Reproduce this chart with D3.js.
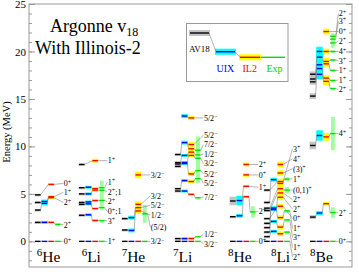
<!DOCTYPE html>
<html>
<head>
<meta charset="utf-8">
<script src="https://cdn.jsdelivr.net/npm/d3@7"></script>
<style>
  body { margin: 0; background: #fff; }
  svg { display: block; font-family: "Liberation Serif", "Times New Roman", serif; }
</style>
</head>
<body>
<div id="chart"></div>
<script>
'use strict'

// models, in column order
const models = ['AV18', 'UIX', 'IL2', 'Exp'];

// nuclei
const massNumbers = [6, 6, 7, 7, 8, 8, 8];
const symbols = ['He', 'Li', 'He', 'Li', 'He', 'Li', 'Be'];

// 6He  (energies in MeV, null = not shown); err = half height of band [AV18, UIX, IL2, Exp]
const he6Spin   = ['0+', '2+', '2+', '1+', '0+'];
const he6LabelE = [0, 1.75, 4.1, 5.15, 6.1];
const he6AV18   = [0, 2.0, 3.3, 4.1, 4.9];
const he6UIX    = [0, 2.0, 4.0, 4.2, null];
const he6IL2    = [0, 2.0, 4.6, 4.7, 6.0];
const he6Exp    = [0, 1.8, null, null, null];
const he6Err    = [[0, 0, 0, 0], [0.1, 0.15, 0.15, 0.05], [0.1, 0.2, 0.15, 0], [0.1, 0.2, 0.15, 0], [0.1, 0, 0.15, 0]];

// 6Li
const li6Spin   = ['1+', '3+', '0+;1', '2+', '2+;1', '1+', '1+'];
const li6LabelE = [0, 2.15, 3.15, 4.2, 5.2, 6.25, 8.5];
const li6AV18   = [0, 2.75, 3.9, 4.1, 5.0, 5.65, 8.1];
const li6UIX    = [0, 2.8, 3.95, 4.15, 5.0, 5.7, null];
const li6IL2    = [0, 2.2, 3.45, 4.3, 5.4, 5.55, 8.5];
const li6Exp    = [0, 2.19, 3.56, 4.31, 5.37, 5.65, null];
const li6Err    = [[0, 0, 0, 0], [0.1, 0.15, 0.15, 0.02], [0.1, 0.12, 0.15, 0.01], [0.1, 0.15, 0.15, 0.65],
                   [0.1, 0.15, 0.2, 0.05], [0.1, 0.15, 0.2, 0.75], [0.1, 0, 0.2, 0]];

// 7He
const he7Spin   = ['3/2−', '(5/2)', '1/2−', '5/2−', '3/2−', '3/2−'];
const he7LabelE = [0, 1.5, 2.75, 3.8, 4.8, 7.0];
const he7AV18   = [0, null, 1.2, 2.4, null, null];
const he7UIX    = [0, null, 1.15, 2.5, null, null];
const he7IL2    = [0, null, 3.2, 3.55, 3.9, 7.0];
const he7Exp    = [0, 2.9, null, null, null, null];
const he7Err    = [[0, 0, 0, 0], [0, 0, 0, 0.95], [0.1, 0.2, 0.3, 0], [0.1, 0.2, 0.3, 0], [0, 0, 0.3, 0], [0, 0, 0.35, 0]];

// 7Li
const li7Spin   = ['3/2−', '1/2−', '7/2−', '5/2−', '5/2−', '3/2−', '1/2−', '7/2−', '5/2−', '5/2−'];
const li7LabelE = [-0.25, 0.8, 4.7, 6.1, 7.1, 8.2, 9.2, 10.2, 11.2, 13.0];
const li7AV18   = [0, 0.3, 5.3, 5.55, 7.9, 8.15, 8.3, 9.15, null, null];
const li7UIX    = [0, 0.3, 5.3, 6.4, 8.2, 8.3, 9.05, 10.4, null, 13.2];
const li7IL2    = [0, 0.3, 4.95, 6.3, 7.1, 9.05, 9.4, 9.75, 10.2, 13.0];
const li7Exp    = [0, 0.48, 4.6, 6.6, 7.45, 8.75, 9.1, 9.6, null, null];
const li7Err    = [[0, 0, 0, 0], [0.05, 0.1, 0.15, 0], [0.1, 0.15, 0.15, 0.05], [0.1, 0.15, 0.2, 0.45],
                   [0.1, 0.15, 0.2, 0.05], [0.1, 0.15, 0.2, 2.3], [0.1, 0.15, 0.2, 1.4], [0.1, 0.2, 0.2, 0.25],
                   [0, 0, 0.25, 0], [0, 0.2, 0.2, 0]];

// 8He
const he8Spin   = ['0+', '2+', '1+', '0+', '2+'];
const he8LabelE = [0, 3.15, 5.7, 7.0, 8.1];
const he8AV18   = [0, 2.6, 4.25, null, null];
const he8UIX    = [0, 2.7, 4.3, null, null];
const he8IL2    = [0, 4.7, 5.8, 7.0, 8.1];
const he8Exp    = [0, 3.1, null, null, null];
const he8Err    = [[0, 0, 0, 0], [0.1, 0.2, 0.15, 0.6], [0.45, 0.5, 0.15, 0], [0, 0, 0.2, 0], [0, 0, 0.2, 0]];

// 8Li
const li8Spin   = ['2+', '1+', '3+', '1+', '0+', '2+', '2+', '(0,1)+', '1+', '(3)+', '4+', '3+'];
const li8LabelE = [-1.65, -0.65, 0.4, 1.35, 2.4, 3.4, 4.4, 5.4, 6.6, 7.65, 8.7, 9.75];
const li8AV18   = [0, 0.5, 1.45, 1.9, 2.4, 0.98, 3.25, 3.5, 4.1, null, null, 5.4];
const li8UIX    = [0, 1.05, 2.1, 3.35, null, 3.5, null, null, 6.5, null, null, null];
const li8IL2    = [0, 0.8, 1.5, 2.5, 3.7, 4.65, 5.1, 5.55, 6.1, 7.2, 8.1, 6.3];
const li8Exp    = [0, 0.98, 2.26, 3.21, null, null, null, 5.4, 6.55, null, null, null];
const li8Err    = [[0, 0, 0, 0], [0.1, 0.15, 0.25, 0.02], [0.1, 0.15, 0.25, 0.02], [0.1, 0.15, 0.25, 0.05],
                   [0.1, 0, 0.25, 0], [0.1, 0.2, 0.3, 0], [0.1, 0, 0.3, 0], [0.1, 0, 0.3, 0.33],
                   [0.1, 0.2, 0.3, 0.2], [0, 0, 0.3, 0], [0, 0, 0.3, 0], [0.1, 0, 0.3, 0]];

// 8Be
const be8Spin   = ['0+', '2+', '4+', '2+', '1+', '1+', '3+', '4+', '2+', '0+', '3+', '2+'];
const be8LabelE = [0, 3.0, 11.35, 16.0, 17.0, 18.0, 19.0, 20.0, 21.1, 22.1, 23.2, 24.0];
const be8AV18   = [0, 2.56, 10.1, 15.3, 16.8, 17.1, 17.6, null, null, null, null, null];
const be8UIX    = [0, 2.98, 11.15, 17.6, 18.2, 18.6, 19.4, 20.0, null, null, null, null];
const be8IL2    = [0, 3.97, 11.0, 16.85, 17.2, 18.7, 18.95, 20.0, null, 22.1, null, null];
const be8Exp    = [0, 3.03, 11.35, 16.1, 16.95, 18.0, 19.1, 20.0, 20.9, null, 21.3, 21.6];
const be8Err    = [[0, 0, 0, 0], [0.2, 0.2, 0.2, 0.55], [0.4, 0.55, 0.4, 1.75], [0.3, 0.5, 0.4, 0.05],
                   [0.3, 0.5, 0.3, 0.05], [0.3, 0.5, 0.3, 0.1], [0.3, 0.5, 0.4, 0.1], [0, 0.5, 0.3, 0.1],
                   [0, 0, 0, 0.5], [0, 0, 0.3, 0], [0, 0, 0, 0.3], [0, 0, 0, 0.3]];

const nuclei = [
  [he6Spin, he6LabelE, he6AV18, he6UIX, he6IL2, he6Exp, he6Err],
  [li6Spin, li6LabelE, li6AV18, li6UIX, li6IL2, li6Exp, li6Err],
  [he7Spin, he7LabelE, he7AV18, he7UIX, he7IL2, he7Exp, he7Err],
  [li7Spin, li7LabelE, li7AV18, li7UIX, li7IL2, li7Exp, li7Err],
  [he8Spin, he8LabelE, he8AV18, he8UIX, he8IL2, he8Exp, he8Err],
  [li8Spin, li8LabelE, li8AV18, li8UIX, li8IL2, li8Exp, li8Err],
  [be8Spin, be8LabelE, be8AV18, be8UIX, be8IL2, be8Exp, be8Err]
].map(function(a, i) {
  return {A: massNumbers[i], sym: symbols[i], spin: a[0], labelE: a[1], E: [a[2], a[3], a[4], a[5]], err: a[6]};
});

// layout (column units)
const nucOffset = [0.9, 7.46, 13.88, 21.8, 30.0, 35.1, 41.94];
const nameShift = [0.25, 0.4, -0.05, -0.3, -0.3, 1.0, 0.0];
const segW = 0.82;

const lineCol = ['#000000', '#0000ff', '#ff0000', '#00e000'];
const bandCol = ['#c4c4c4', '#00ffff', '#ffff00', '#a0ffa0'];

const w = 359, h = 272;
const svg = d3.select('#chart').append('svg').attr('width', w).attr('height', h);

const y = d3.scaleLinear().domain([-2.7, 25]).range([267, 4]);
const x = d3.scaleLinear().domain([0, 48.2]).range([29, 352]);

// frame + axes
svg.append('rect').attr('x', 29).attr('y', 4).attr('width', 323).attr('height', 263)
   .attr('fill', 'none').attr('stroke', '#999').attr('stroke-width', 1);

function styleAxis(g) {
  g.select('.domain').remove();
  g.selectAll('line').attr('stroke', '#999');
  g.selectAll('text').attr('font-family', '"Liberation Serif", serif').attr('font-size', 11).attr('fill', '#000');
}
svg.append('g').attr('transform', 'translate(29,0)')
   .call(d3.axisLeft(y).tickValues(d3.range(-2, 26)).tickSize(-3).tickFormat('')).call(styleAxis);
svg.append('g').attr('transform', 'translate(29,0)')
   .call(d3.axisLeft(y).tickValues([0, 5, 10, 15, 20, 25]).tickSize(-6).tickPadding(3)).call(styleAxis);
svg.append('g').attr('transform', 'translate(352,0)')
   .call(d3.axisRight(y).tickValues(d3.range(-2, 26)).tickSize(-3).tickFormat('')).call(styleAxis);
svg.append('g').attr('transform', 'translate(352,0)')
   .call(d3.axisRight(y).tickValues([0, 5, 10, 15, 20, 25]).tickSize(-6).tickFormat('')).call(styleAxis);

svg.append('text').attr('transform', 'translate(10,132) rotate(-90)')
   .attr('text-anchor', 'middle').attr('font-size', 10.5).text('Energy (MeV)');

// flatten levels
const levels = [], links = [], tags = [];
nuclei.forEach(function(nuc, n) {
  const off = nucOffset[n];
  nuc.spin.forEach(function(sp, s) {
    const pts = [];
    for (let k = 0; k < 4; k++) {
      const v = nuc.E[k][s];
      if (v === null) continue;
      const lv = {k: k, E: v, err: nuc.err[s][k], x0: x(off + k), x1: x(off + k + segW), xc: x(off + k + segW / 2)};
      levels.push(lv);
      pts.push(lv);
    }
    for (let i = 1; i < pts.length; i++) {
      links.push([pts[i - 1].x1, y(pts[i - 1].E), pts[i].x0, y(pts[i].E)]);
    }
    const last = pts[pts.length - 1];
    const lx = x(off + 4.3);
    links.push([last.x1, y(last.E), lx - 0.5, y(nuc.labelE[s])]);
    tags.push({x: lx, E: nuc.labelE[s], text: sp});
  });
});

// bands
svg.append('g').selectAll('rect').data(levels.filter(d => d.err > 0)).enter().append('rect')
   .attr('x', d => d.k === 3 ? d.xc - 1.9 : d.x0 - 0.5)
   .attr('width', d => d.k === 3 ? 3.8 : d.x1 - d.x0 + 1)
   .attr('y', d => y(d.E + d.err))
   .attr('height', d => Math.max(2.5, y(d.E - d.err) - y(d.E + d.err)))
   .attr('fill', d => bandCol[d.k]);

// connectors
svg.append('g').selectAll('line').data(links).enter().append('line')
   .attr('x1', d => d[0]).attr('y1', d => d[1]).attr('x2', d => d[2]).attr('y2', d => d[3])
   .attr('stroke', '#808080').attr('stroke-width', 0.6);

// level lines
svg.append('g').selectAll('line').data(levels).enter().append('line')
   .attr('x1', d => d.x0).attr('x2', d => d.x1)
   .attr('y1', d => y(d.E)).attr('y2', d => y(d.E))
   .attr('stroke', d => lineCol[d.k]).attr('stroke-width', 1.4);

// spin labels
function spinText(sel, s) {
  const m = s.match(/^(.*?)([+−])(.*)$/);
  if (!m) { sel.text(s); return; }
  sel.append('tspan').text(m[1]);
  sel.append('tspan').attr('dy', -2.5).attr('font-size', 6).text(m[2]);
  if (m[3]) sel.append('tspan').attr('dy', 2.5).text(m[3]);
}
svg.append('g').selectAll('text').data(tags).enter().append('text')
   .attr('x', d => d.x).attr('y', d => y(d.E) + 2.8)
   .attr('font-size', 8).attr('fill', '#000')
   .each(function(d) { spinText(d3.select(this), d.text); });

// nucleus names
nuclei.forEach(function(nuc, n) {
  const t = svg.append('text').attr('x', x(nucOffset[n] + nameShift[n])).attr('y', 262).attr('fill', '#000');
  t.append('tspan').attr('font-size', 11).attr('dy', -6).text(nuc.A);
  t.append('tspan').attr('font-size', 15.5).attr('dy', 6).text(nuc.sym);
});

// title
const t1 = svg.append('text').attr('x', 50).attr('y', 32).attr('font-size', 18);
t1.append('tspan').text('Argonne v');
t1.append('tspan').attr('font-size', 12).attr('dy', 3.5).text('18');
svg.append('text').attr('x', 35).attr('y', 54).attr('font-size', 18).text('With Illinois-2');

// legend
const lg = svg.append('g');
lg.append('rect').attr('x', 186.5).attr('y', 23.5).attr('width', 101.5).attr('height', 58)
  .attr('fill', '#fff').attr('stroke', '#999');
const legItems = [
  {k: 0, x0: 190, x1: 209, yy: 33},
  {k: 1, x0: 216, x1: 235, yy: 51.7},
  {k: 2, x0: 240, x1: 260, yy: 57.3},
  {k: 3, x0: 261, x1: 285, yy: 57.3}
];
legItems.forEach(function(d, i) {
  if (d.k < 3) lg.append('rect').attr('x', d.x0 - 1).attr('width', d.x1 - d.x0 + 2)
    .attr('y', d.yy - 3).attr('height', 6).attr('fill', bandCol[d.k]);
  if (i > 0) lg.append('line').attr('x1', legItems[i - 1].x1).attr('y1', legItems[i - 1].yy)
    .attr('x2', d.x0).attr('y2', d.yy).attr('stroke', '#808080').attr('stroke-width', 0.6);
});
legItems.forEach(function(d) {
  lg.append('line').attr('x1', d.x0).attr('x2', d.x1).attr('y1', d.yy).attr('y2', d.yy)
    .attr('stroke', lineCol[d.k]).attr('stroke-width', 1.4);
});
lg.append('text').attr('x', 189).attr('y', 51.5).attr('font-size', 9).attr('fill', '#000').text('AV18');
lg.append('text').attr('x', 216.5).attr('y', 71.5).attr('font-size', 10).attr('fill', '#0000ff').text('UIX');
lg.append('text').attr('x', 242.5).attr('y', 71.5).attr('font-size', 10).attr('fill', '#ff0000').text('IL2');
lg.append('text').attr('x', 266.5).attr('y', 71.5).attr('font-size', 10).attr('fill', '#00cc00').text('Exp');
</script>
</body>
</html>
